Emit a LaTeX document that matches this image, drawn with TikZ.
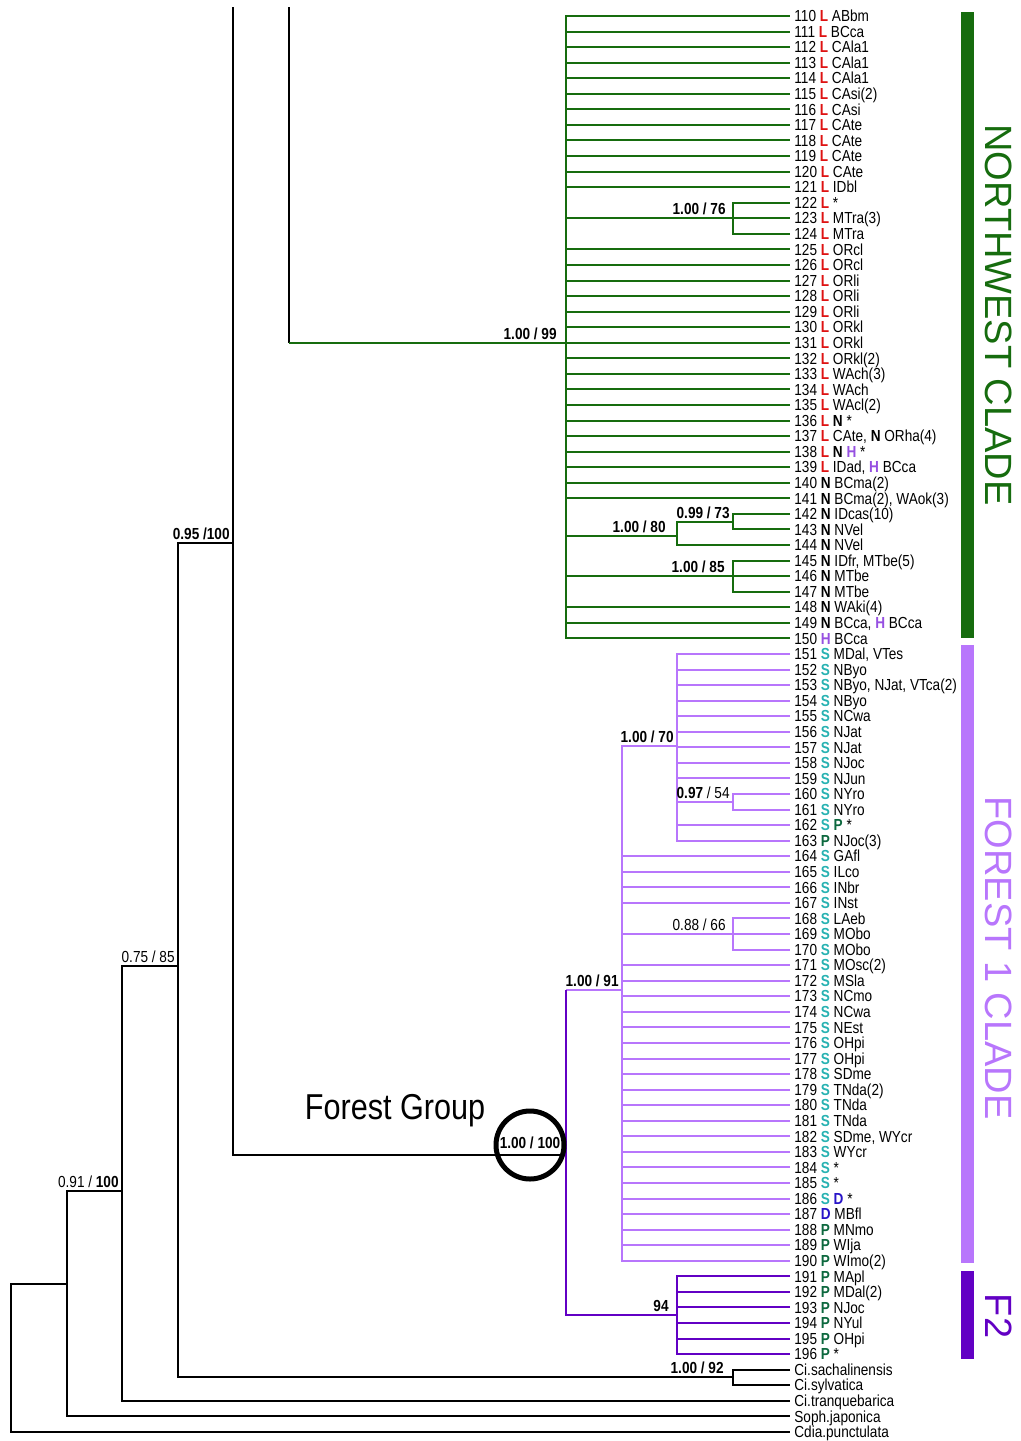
\documentclass[tikz,border=0pt]{standalone}
\usepackage{fontspec}
\setmainfont{Liberation Sans}
\newfontfamily\narrowfont{Liberation Sans}[FakeStretch=0.85]
\usetikzlibrary{positioning}

\definecolor{nwgreen}{RGB}{22,108,14}
\definecolor{fonelight}{RGB}{184,118,252}
\definecolor{ftwodark}{RGB}{98,0,196}
\definecolor{codeL}{RGB}{222,18,18}
\definecolor{codeH}{RGB}{150,80,225}
\definecolor{codeS}{RGB}{40,178,178}
\definecolor{codeP}{RGB}{12,104,62}
\definecolor{codeD}{RGB}{40,20,200}

% region codes
\newcommand{\cL}{\textcolor{codeL}{\bfseries L}}
\newcommand{\cN}{{\bfseries N}}
\newcommand{\cH}{\textcolor{codeH}{\bfseries H}}
\newcommand{\cS}{\textcolor{codeS}{\bfseries S}}
\newcommand{\cP}{\textcolor{codeP}{\bfseries P}}
\newcommand{\cD}{\textcolor{codeD}{\bfseries D}}

\tikzset{
  tip/.style={anchor=west, inner sep=2pt, font=\narrowfont\fontsize{8}{9}\selectfont,
    text height=5.7pt, text depth=0pt},
  support/.style={anchor=south east, inner sep=1.5pt, font=\narrowfont\fontsize{8}{9}\selectfont},
  branch/.style={line width=1pt},
  cladename/.style={rotate=-90, font=\fontsize{19}{20}\selectfont}
}

\begin{document}
\begin{tikzpicture}[x=0.5pt, y=-0.5pt]
  \useasboundingbox (0,0) rectangle (1021,1441);

  % tips
  \foreach \id/\txt in {110/{\cL\ ABbm}, 111/{\cL\ BCca}, 112/{\cL\ CAla1}, 113/{\cL\ CAla1},
      114/{\cL\ CAla1}, 115/{\cL\ CAsi(2)}, 116/{\cL\ CAsi}, 117/{\cL\ CAte}, 118/{\cL\ CAte},
      119/{\cL\ CAte}, 120/{\cL\ CAte}, 121/{\cL\ IDbl}, 122/{\cL\ *}, 123/{\cL\ MTra(3)},
      124/{\cL\ MTra}, 125/{\cL\ ORcl}, 126/{\cL\ ORcl}, 127/{\cL\ ORli}, 128/{\cL\ ORli},
      129/{\cL\ ORli}, 130/{\cL\ ORkl}, 131/{\cL\ ORkl}, 132/{\cL\ ORkl(2)}, 133/{\cL\ WAch(3)},
      134/{\cL\ WAch}, 135/{\cL\ WAcl(2)}, 136/{\cL\ \cN\ *}, 137/{\cL\ CAte, \cN\ ORha(4)},
      138/{\cL\ \cN\ \cH\ *}, 139/{\cL\ IDad, \cH\ BCca}, 140/{\cN\ BCma(2)},
      141/{\cN\ BCma(2), WAok(3)}, 142/{\cN\ IDcas(10)}, 143/{\cN\ NVel}, 144/{\cN\ NVel},
      145/{\cN\ IDfr, MTbe(5)}, 146/{\cN\ MTbe}, 147/{\cN\ MTbe}, 148/{\cN\ WAki(4)},
      149/{\cN\ BCca, \cH\ BCca}, 150/{\cH\ BCca},
      151/{\cS\ MDal, VTes}, 152/{\cS\ NByo}, 153/{\cS\ NByo, NJat, VTca(2)}, 154/{\cS\ NByo},
      155/{\cS\ NCwa}, 156/{\cS\ NJat}, 157/{\cS\ NJat}, 158/{\cS\ NJoc}, 159/{\cS\ NJun},
      160/{\cS\ NYro}, 161/{\cS\ NYro}, 162/{\cS\ \cP\ *}, 163/{\cP\ NJoc(3)}, 164/{\cS\ GAfl},
      165/{\cS\ ILco}, 166/{\cS\ INbr}, 167/{\cS\ INst}, 168/{\cS\ LAeb}, 169/{\cS\ MObo},
      170/{\cS\ MObo}, 171/{\cS\ MOsc(2)}, 172/{\cS\ MSla}, 173/{\cS\ NCmo}, 174/{\cS\ NCwa},
      175/{\cS\ NEst}, 176/{\cS\ OHpi}, 177/{\cS\ OHpi}, 178/{\cS\ SDme}, 179/{\cS\ TNda(2)},
      180/{\cS\ TNda}, 181/{\cS\ TNda}, 182/{\cS\ SDme, WYcr}, 183/{\cS\ WYcr}, 184/{\cS\ *},
      185/{\cS\ *}, 186/{\cS\ \cD\ *}, 187/{\cD\ MBfl}, 188/{\cP\ MNmo}, 189/{\cP\ WIja},
      190/{\cP\ WImo(2)}, 191/{\cP\ MApl}, 192/{\cP\ MDal(2)}, 193/{\cP\ NJoc}, 194/{\cP\ NYul},
      195/{\cP\ OHpi}, 196/{\cP\ *}}
  {
    \pgfmathsetmacro\ty{16+(\id-110)*15.56}
    \node[tip] (t\id) at (790,\ty) {\id\ \txt};
  }
  \node[tip] (sach)  at (790,{16+87*15.56}) {Ci.sachalinensis};
  \node[tip] (sylv)  at (790,{16+88*15.56}) {Ci.sylvatica};
  \node[tip] (tranq) at (790,{16+89*15.56}) {Ci.tranquebarica};
  \node[tip] (soph)  at (790,{16+90*15.56}) {Soph.japonica};
  \node[tip] (cdia)  at (790,{16+91*15.56}) {Cdia.punctulata};

  % internal nodes
  \coordinate (root)   at (11,1358);
  \coordinate (n67)    at (67,1284);
  \coordinate (n122)   at (122,1191);
  \coordinate (n178)   at (178,966);
  \coordinate (n233)   at (233,543);
  \coordinate (top233) at (233,7);
  \coordinate (top289) at (289,7);
  \coordinate (n289)   at (289,343);
  \coordinate (cis)    at (733,1377);
  \coordinate (nw)     at (566,343);
  \coordinate (s76)    at (733,218);
  \coordinate (s80)    at (677,536);
  \coordinate (s99)    at (733,522);
  \coordinate (s85)    at (733,576);
  \coordinate (fg)     at (566,1155);
  \coordinate (f1)     at (622,990);
  \coordinate (s70)    at (677,746);
  \coordinate (s97)    at (733,802);
  \coordinate (s88)    at (733,934);
  \coordinate (f2)     at (677,1315);

  % backbone and outgroups
  \draw[branch] (root) |- (n67);
  \draw[branch] (root) |- (cdia.west);
  \draw[branch] (n67) |- (n122);
  \draw[branch] (n67) |- (soph.west);
  \draw[branch] (n122) |- (n178);
  \draw[branch] (n122) |- (tranq.west);
  \draw[branch] (n178) |- (n233);
  \draw[branch] (n178) |- (cis);
  \draw[branch] (cis) |- (sach.west);
  \draw[branch] (cis) |- (sylv.west);
  \draw[branch] (top233) |- (fg);
  \draw[branch] (top289) -- (n289);

  % northwest clade
  \draw[branch,nwgreen] (n289) -- (nw);
  \foreach \id in {110,...,121} \draw[branch,nwgreen] (nw) |- (t\id.west);
  \foreach \id in {125,...,141} \draw[branch,nwgreen] (nw) |- (t\id.west);
  \foreach \id in {148,149,150} \draw[branch,nwgreen] (nw) |- (t\id.west);
  \draw[branch,nwgreen] (nw) |- (s76);
  \draw[branch,nwgreen] (nw) |- (s80);
  \draw[branch,nwgreen] (nw) |- (s85);
  \foreach \id in {122,123,124} \draw[branch,nwgreen] (s76) |- (t\id.west);
  \draw[branch,nwgreen] (s80) |- (s99);
  \draw[branch,nwgreen] (s80) |- (t144.west);
  \foreach \id in {142,143} \draw[branch,nwgreen] (s99) |- (t\id.west);
  \foreach \id in {145,146,147} \draw[branch,nwgreen] (s85) |- (t\id.west);

  % forest 1 clade
  \draw[branch,fonelight] (fg |- f1) -- (f1);
  \foreach \id in {164,...,167} \draw[branch,fonelight] (f1) |- (t\id.west);
  \foreach \id in {171,...,190} \draw[branch,fonelight] (f1) |- (t\id.west);
  \draw[branch,fonelight] (f1) |- (s70);
  \draw[branch,fonelight] (f1) |- (s88);
  \foreach \id in {151,...,159} \draw[branch,fonelight] (s70) |- (t\id.west);
  \foreach \id in {162,163} \draw[branch,fonelight] (s70) |- (t\id.west);
  \draw[branch,fonelight] (s70) |- (s97);
  \foreach \id in {160,161} \draw[branch,fonelight] (s97) |- (t\id.west);
  \foreach \id in {168,169,170} \draw[branch,fonelight] (s88) |- (t\id.west);

  % forest 2 clade
  \draw[branch,ftwodark] (fg |- f1) -- (fg) |- (f2);
  \foreach \id in {191,...,196} \draw[branch,ftwodark] (f2) |- (t\id.west);

  % support values
  \node[support] (lab95)  at (n233) {\bfseries 0.95 /100};
  \node[support] (lab75)  at (n178) {0.75 / 85};
  \node[support] (lab91a) at (n122) {0.91 / \textbf{100}};
  \node[support, xshift=-3pt] (lab99) at (nw) {\bfseries 1.00 / 99};
  \node[support, xshift=-2pt] (lab76) at (s76) {\bfseries 1.00 / 76};
  \node[support, xshift=-4pt] (lab80) at (s80) {\bfseries 1.00 / 80};
  \node[support] (lab73)  at (s99)  {\bfseries 0.99 / 73};
  \node[support, xshift=-2.5pt] (lab85) at (s85) {\bfseries 1.00 / 85};
  \node[support] (lab70)  at (s70)  {\bfseries 1.00 / 70};
  \node[support] (lab54)  at (s97)  {\textbf{0.97} / 54};
  \node[support, xshift=-2pt] (lab66) at (s88) {0.88 / 66};
  \node[support] (lab91)  at (f1)   {\bfseries 1.00 / 91};
  \node[support, xshift=-2.5pt] (lab94) at (f2) {\bfseries 94};
  \node[support, xshift=-3pt] (lab92) at (cis) {\bfseries 1.00 / 92};

  % forest group node
  \node[circle, draw, line width=2.5pt, minimum size=34pt] (fgring) at (530,1145) {};
  \node[font=\narrowfont\fontsize{8}{9}\selectfont\bfseries, inner sep=0pt] (lab100) at (530,1143) {1.00 / 100};
  \node[font=\narrowfont\fontsize{18}{20}\selectfont, inner sep=0pt] (fgname) at (395,1111) {Forest Group};

  % clade bars
  \fill[nwgreen]   (961,12)   rectangle (974,638);
  \fill[fonelight] (961,645)  rectangle (974,1263);
  \fill[ftwodark]  (961,1271) rectangle (974,1359);
  \node[cladename, text=nwgreen]   (nwname) at (999,315)  {NORTHWEST CLADE};
  \node[cladename, text=fonelight] (fname)  at (999,958)  {FOREST 1 CLADE};
  \node[cladename, text=ftwodark]  (ftname) at (999,1316) {F2};
\end{tikzpicture}
\end{document}
